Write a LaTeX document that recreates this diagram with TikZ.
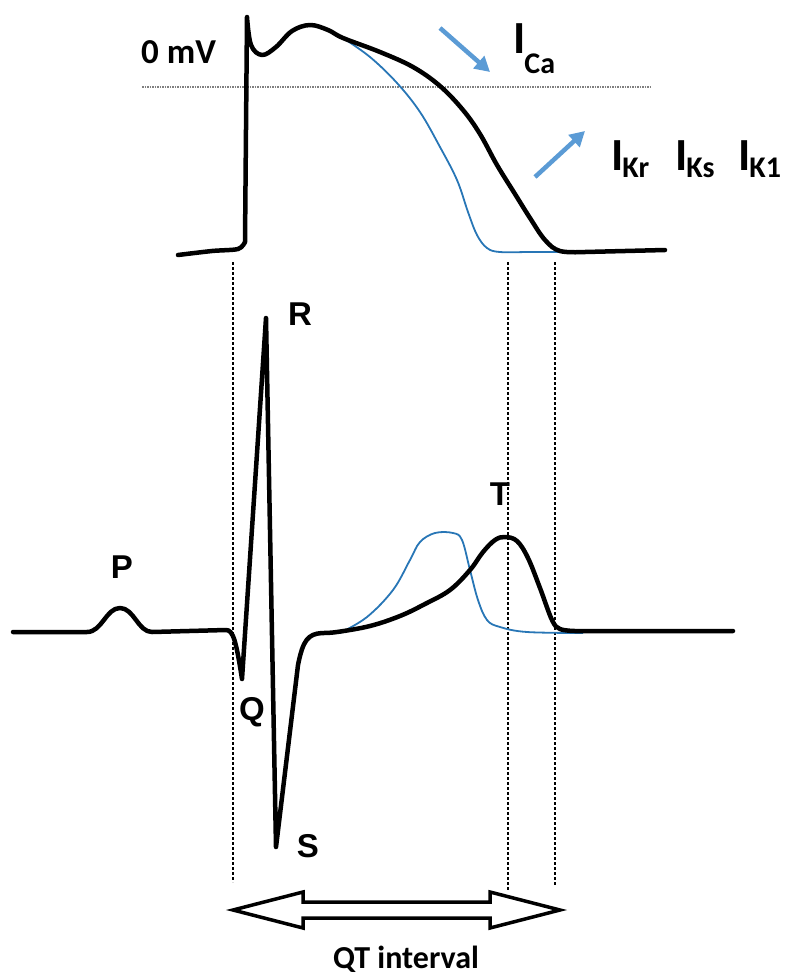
\documentclass[tikz,border=0pt]{standalone}
\usepackage{fontspec}
\setmainfont{Carlito}
\newfontfamily\wavefont{Liberation Sans}
\usetikzlibrary{arrows.meta,positioning}
\definecolor{apblue}{RGB}{40,118,182}
\definecolor{arrowblue}{RGB}{91,155,213}
\newcommand{\ioncur}[2]{{\fontsize{46}{46}\selectfont I}\kern-1pt\raisebox{#1}{\fontsize{30}{30}\selectfont #2}}

\begin{document}
\begin{tikzpicture}[x=1pt, y=-1pt,
  trace/.style={line width=4.5pt, line join=round, line cap=round},
  alt/.style={apblue, line width=1.8pt, line join=round},
  guide/.style={line width=2.7pt, dash pattern=on 2.6pt off 2.4pt},
  zero/.style={gray, line width=1.7pt, dash pattern=on 1.5pt off 1pt},
  flux/.style={arrowblue, line width=4.5pt, -{Triangle[length=15pt,width=16pt]}},
  wave/.style={font=\wavefont\bfseries\fontsize{33}{33}\selectfont, inner sep=0pt, anchor=base},
  big/.style={font=\bfseries, inner sep=0pt, anchor=base west}
]
  \useasboundingbox (0,0) rectangle (787,978);

  \coordinate (q0) at (233,262);  \coordinate (q1) at (233,882);
  \coordinate (t0) at (508,262);  \coordinate (t1) at (508,890);
  \coordinate (e0) at (555,262);  \coordinate (e1) at (555,885);
  \draw[guide] (q0) -- (q1);
  \draw[guide] (t0) -- (t1);
  \draw[guide] (e0) -- (e1);

  \coordinate (z0) at (142,87);  \coordinate (z1) at (650,87);
  \draw[zero] (z0) -- (z1);

  \draw[alt] plot[smooth, tension=0.6] coordinates {(343,38) (370,57) (397,83) (420,112) (440,147)
    (457,180) (468,212) (477,235) (487,248) (500,252) (530,252) (560,252)};
  \draw[trace] plot[smooth, tension=0.5] coordinates {(178,255) (212,251) (238,249) (245,242)}
    -- (247,17) -- plot[smooth, tension=0.6] coordinates {(247,17) (251,45) (262,55) (276,47)
    (292,31) (310,25) (328,30) (343,38) (380,52) (413,67) (440,86) (463,110) (480,134) (497,165)
    (515,194) (530,218) (545,240) (560,251) (585,252)} -- (665,250);

  \draw[alt] plot[smooth, tension=0.6] coordinates {(340,633) (367,617) (393,590) (410,560) (420,542)
    (435,533) (453,533) (462,540) (470,570) (478,600) (487,620) (500,627) (527,632) (583,633)};
  \draw[trace] (13,632) -- (87,632) .. controls (102,632) and (106,608) .. (120,608)
    .. controls (134,608) and (138,632) .. (152,632) -- (226,630)
    .. controls (233,630) and (236,640) .. (242,679) -- (266,318) -- (276,847) -- (298,665)
    .. controls (303,640) and (308,634) .. (322,633)
    -- plot[smooth, tension=0.6] coordinates {(322,633) (337,632) (370,626) (400,616) (425,604)
    (450,590) (470,570) (483,552) (495,540) (505,537) (517,541) (528,558) (540,588) (552,620)
    (560,629) (575,631)} -- (733,631);

  \coordinate (ca0) at (440,28);  \coordinate (ca1) at (490,72);
  \coordinate (k0) at (535,177);  \coordinate (k1) at (585,131);
  \draw[flux] (ca0) -- (ca1);
  \draw[flux] (k0) -- (k1);

  \draw[line width=3.5pt, fill=white] (233,910) -- (303,892) -- (303,902) -- (490,902) -- (490,892)
    -- (560,910) -- (490,928) -- (490,918) -- (303,918) -- (303,928) -- cycle;

  \node[big, font=\bfseries\fontsize{35}{35}\selectfont] (mv) at (141,63) {0 mV};
  \node[big] (ica) at (513,53) {\ioncur{-20pt}{Ca}};
  \node[big] (ikr) at (611,170) {\ioncur{-7pt}{Kr}};
  \node[big] (iks) at (675,170) {\ioncur{-7pt}{Ks}};
  \node[big] (ik1) at (738,170) {\ioncur{-7pt}{K1}};

  \node[wave] (p) at (122,578) {P};
  \node[wave] (q) at (252,720) {Q};
  \node[wave] (r) at (300,325) {R};
  \node[wave] (s) at (308,857) {S};
  \node[wave] (t) at (500,505) {T};

  \node[font=\bfseries\fontsize{32}{32}\selectfont, inner sep=0pt, anchor=base] (qt) at (406,968) {QT interval};
\end{tikzpicture}
\end{document}
